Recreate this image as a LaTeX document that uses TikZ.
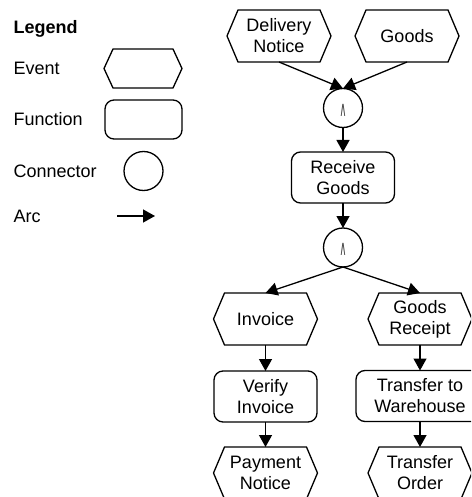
\documentclass[tikz,border=0pt]{standalone}
\usepackage{fontspec}
\setmainfont{Liberation Sans}
\newfontfamily\symfont{DejaVu Sans}
\usetikzlibrary{arrows.meta}
\newcommand\hexa[2]{%
  \draw ([xshift=#2]#1.north west) -- ([xshift=-#2]#1.north east) -- (#1.east)
    -- ([xshift=-#2]#1.south east) -- ([xshift=#2]#1.south west) -- (#1.west) -- cycle;}
\begin{document}
\begin{tikzpicture}[x=1pt,y=-1pt,
  font=\fontsize{18}{21}\selectfont,
  line width=1.3pt, line join=miter,
  ev/.style={minimum width=104pt,minimum height=52pt,inner sep=0pt,outer sep=0pt,align=center},
  legev/.style={minimum width=78pt,minimum height=39pt,inner sep=0pt,outer sep=0pt},
  fn/.style={draw,rounded corners=9pt,minimum width=103pt,minimum height=51pt,inner sep=0pt,outer sep=0pt,align=center},
  legfn/.style={draw,rounded corners=9pt,minimum width=77pt,minimum height=39pt,inner sep=0pt},
  con/.style={draw,circle,minimum size=39pt,inner sep=0pt,outer sep=0pt},
  andsym/.style={font=\symfont\fontsize{21}{21}\selectfont,inner sep=0pt,text=black!75},
  lbl/.style={anchor=west,inner sep=0pt},
  arc/.style={-{Triangle[length=12pt,width=13pt]}},
]
\useasboundingbox (0,0) rectangle (471,497);
\clip (0,0) rectangle (471,497);

% legend
\node[lbl,font=\fontsize{18}{21}\selectfont\bfseries] (lt) at (13,29) {Legend};
\node[lbl] (le) at (13,68.5) {Event};
\node[lbl] (lf) at (13,119.5) {Function};
\node[lbl] (lc) at (13,171) {Connector};
\node[lbl] (la) at (13,216) {Arc};
\node[legev] (lev) at (143,68.5) {};
\hexa{lev}{9pt}
\node[legfn] (lfn) at (143.5,119.5) {};
\node[con] (lcon) at (143.5,171) {};
\coordinate (a1) at (117,216);
\coordinate (a2) at (155,216);
\draw[arc] (a1) -- (a2);

% main
\node[ev] (dn) at (279,36) {Delivery\\Notice};
\hexa{dn}{11pt}
\node[ev] (gd) at (407,36) {Goods};
\hexa{gd}{11pt}
\node[con] (c1) at (343,108) {};
\node[andsym] (c1s) at ([yshift=-2pt]c1) {\scalebox{0.45}[1]{∧}};
\node[fn] (rg) at (343,177.5) {Receive\\Goods};
\node[con] (c2) at (343,247.5) {};
\node[andsym] (c2s) at ([yshift=-2pt]c2) {\scalebox{0.45}[1]{∧}};
\node[ev] (inv) at (265.5,319) {Invoice};
\hexa{inv}{11pt}
\node[ev] (gr) at (420,319) {Goods\\Receipt};
\hexa{gr}{11pt}
\node[fn] (vi) at (265.5,396.5) {Verify\\Invoice};
\node[fn,minimum width=128pt] (tw) at (420,396) {Transfer to\\Warehouse};
\node[ev] (pn) at (265.5,473) {Payment\\Notice};
\hexa{pn}{11pt}
\node[ev] (tord) at (420,473) {Transfer\\Order};
\hexa{tord}{11pt}

\draw[arc] (dn.south) -- (c1.north);
\draw[arc] (gd.south) -- (c1.north);
\draw[arc] (c1) -- (rg);
\draw[arc] (rg) -- (c2);
\draw[arc] (c2.south) -- (inv.north);
\draw[arc] (c2.south) -- (gr.north);
\draw[arc] (inv) -- (vi);
\draw[arc] (vi) -- (pn);
\draw[arc] (gr) -- (tw);
\draw[arc] (tw) -- (tord);
\end{tikzpicture}
\end{document}
